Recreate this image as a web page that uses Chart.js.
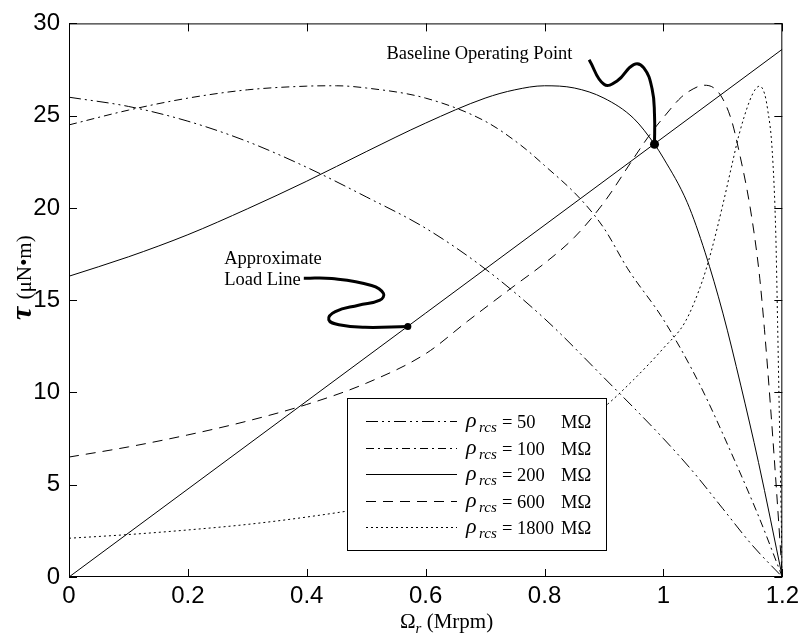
<!DOCTYPE html>
<html>
<head>
<meta charset="utf-8">
<script src="https://cdn.jsdelivr.net/npm/chart.js@4/dist/chart.umd.min.js"></script>
<style>
  html, body { margin: 0; padding: 0; background: #fff; }
</style>
</head>
<body>
<canvas id="torqueChart" width="804" height="641"></canvas>
<script>
// rotor speed (Mrpm) vs torque (uN*m)
const speed50 = [0, 0.1, 0.2, 0.3, 0.4, 0.5, 0.6, 0.7, 0.8, 0.9, 1.0, 1.05, 1.1, 1.15, 1.2];
const torque50 = [26.0, 25.5, 24.7, 23.6, 22.2, 20.6, 18.9, 16.7, 14.0, 10.8, 7.5, 5.7, 3.7, 1.7, 0];

const speed100 = [0, 0.1, 0.2, 0.3, 0.4, 0.45, 0.5, 0.6, 0.7, 0.76, 0.8, 0.86, 0.9, 0.94, 1.0, 1.06, 1.12, 1.16, 1.2];
const torque100 = [24.5, 25.3, 25.95, 26.4, 26.6, 26.62, 26.5, 25.95, 24.7, 23.4, 22.3, 20.5, 18.9, 16.7, 13.95, 10.5, 6.3, 3.3, 0];

const speed200 = [0, 0.1, 0.2, 0.3, 0.4, 0.5, 0.6, 0.7, 0.75, 0.8, 0.85, 0.9, 0.95, 0.985, 1.0, 1.04, 1.07, 1.1, 1.13, 1.16, 1.2];
const torque200 = [16.3, 17.35, 18.55, 19.95, 21.45, 23.05, 24.6, 25.95, 26.4, 26.62, 26.5, 25.95, 24.85, 23.45, 22.7, 20.3, 17.6, 14.3, 10.4, 6.2, 0];

const speed600 = [0, 0.1, 0.2, 0.3, 0.4, 0.5, 0.6, 0.67, 0.75, 0.8, 0.85, 0.9, 0.95, 0.98, 1.0, 1.03, 1.05, 1.068, 1.085, 1.1, 1.115, 1.127, 1.146, 1.161, 1.17, 1.18, 1.19, 1.2];
const torque600 = [6.5, 7.05, 7.7, 8.45, 9.35, 10.5, 12.1, 13.85, 15.8, 17.0, 18.4, 20.3, 22.7, 24.1, 24.9, 26.0, 26.45, 26.65, 26.5, 25.9, 24.7, 23.1, 20.0, 16.5, 13.4, 9.3, 4.8, 0];

const speed1800 = [0, 0.1, 0.2, 0.3, 0.4, 0.5, 0.6, 0.7, 0.8, 0.9, 0.95, 1.0, 1.037, 1.065, 1.08, 1.099, 1.115, 1.127, 1.145, 1.155, 1.162, 1.17, 1.175, 1.183, 1.189, 1.192, 1.196, 1.2];
const torque1800 = [2.1, 2.3, 2.55, 2.85, 3.25, 3.75, 4.45, 5.45, 6.9, 9.2, 10.7, 12.4, 13.85, 16.0, 17.6, 20.05, 22.3, 23.95, 25.8, 26.45, 26.6, 26.2, 25.4, 23.1, 18.6, 13.85, 7.0, 0];

const loadSpeed = [0, 1.2];
const loadTorque = [0, 28.6];

// operating points and the hand-drawn pointer curves
const pointSpeed = [0.985, 0.570];
const pointTorque = [23.45, 13.58];
const baseArrowSpeed = [0.875, 0.900, 0.922, 0.950, 0.967, 0.981, 0.985, 0.985];
const baseArrowTorque = [28.03, 26.70, 26.88, 27.77, 27.59, 26.44, 25.02, 23.45];
const loadArrowSpeed = [0.395, 0.442, 0.509, 0.529, 0.523, 0.487, 0.448, 0.437, 0.454, 0.498, 0.570];
const loadArrowTorque = [16.19, 16.17, 15.80, 15.37, 15.00, 14.73, 14.38, 13.94, 13.67, 13.53, 13.58];

const resistances = ['50', '100', '200', '600', '1800'];
const xTicks = [0, 0.2, 0.4, 0.6, 0.8, 1.0, 1.2];
const yTicks = [0, 5, 10, 15, 20, 25, 30];

const dashes = [[12, 4, 2, 4, 2, 4], [8, 4, 2, 4], [], [10, 7], [2, 3]];
const SERIF = '"Liberation Serif", "DejaVu Serif", serif';

function pts(xs, ys) {
  return xs.map((v, i) => ({ x: v, y: ys[i] }));
}

function curve(xs, ys, dash) {
  return {
    data: pts(xs, ys),
    showLine: true,
    borderColor: '#000',
    borderWidth: 1,
    borderDash: dash,
    pointRadius: 0,
    cubicInterpolationMode: 'monotone'
  };
}

const datasets = [
  curve(speed50, torque50, dashes[0]),
  curve(speed100, torque100, dashes[1]),
  curve(speed200, torque200, dashes[2]),
  curve(speed600, torque600, dashes[3]),
  curve(speed1800, torque1800, dashes[4]),
  curve(loadSpeed, loadTorque, []),
  {
    data: pts(baseArrowSpeed, baseArrowTorque),
    showLine: true, borderColor: '#000', borderWidth: 3, pointRadius: 0, tension: 0.45
  },
  {
    data: pts(loadArrowSpeed, loadArrowTorque),
    showLine: true, borderColor: '#000', borderWidth: 3, pointRadius: 0, tension: 0.45
  },
  {
    data: pts(pointSpeed, pointTorque),
    showLine: false, pointRadius: [4.5, 3.5], backgroundColor: '#000', borderColor: '#000', pointBorderWidth: 0
  }
];

const decorations = {
  id: 'decorations',
  afterDatasetsDraw(chart) {
    const ctx = chart.ctx;
    // legend box
    const bx = 347, by = 398, bw = 259, bh = 152;
    ctx.save();
    ctx.fillStyle = '#fff';
    ctx.fillRect(bx, by, bw, bh);
    ctx.strokeStyle = '#000';
    ctx.lineWidth = 1;
    ctx.strokeRect(bx + 0.5, by + 0.5, bw, bh);
    resistances.forEach((r, i) => {
      const ry = 421 + i * 26.5;
      ctx.beginPath();
      ctx.setLineDash(dashes[i]);
      ctx.moveTo(366, Math.round(ry) + 0.5);
      ctx.lineTo(457, Math.round(ry) + 0.5);
      ctx.stroke();
      ctx.setLineDash([]);
      ctx.fillStyle = '#000';
      ctx.textBaseline = 'alphabetic';
      ctx.textAlign = 'left';
      ctx.font = 'italic 22px ' + SERIF;
      ctx.fillText('ρ', 466, ry + 6);
      ctx.font = 'italic 15px ' + SERIF;
      ctx.fillText('rcs', 479, ry + 11);
      ctx.font = '18.5px ' + SERIF;
      ctx.fillText('= ' + r, 502, ry + 7);
      ctx.fillText('MΩ', 561, ry + 7);
    });
    ctx.restore();
  },
  afterDraw(chart) {
    const ctx = chart.ctx;
    const a = chart.chartArea;
    const xs = chart.scales.x, ys = chart.scales.y;
    ctx.save();
    ctx.strokeStyle = '#000';
    ctx.lineWidth = 1;
    ctx.strokeRect(a.left + 0.5, a.top + 0.5, a.right - a.left - 1, a.bottom - a.top - 1);
    ctx.beginPath();
    xTicks.forEach(v => {
      const px = Math.round(xs.getPixelForValue(v)) + 0.5;
      ctx.moveTo(px, a.bottom); ctx.lineTo(px, a.bottom - 8);
      ctx.moveTo(px, a.top); ctx.lineTo(px, a.top + 8);
    });
    yTicks.forEach(v => {
      const py = Math.round(ys.getPixelForValue(v)) + 0.5;
      ctx.moveTo(a.left, py); ctx.lineTo(a.left + 8, py);
      ctx.moveTo(a.right, py); ctx.lineTo(a.right - 8, py);
    });
    ctx.stroke();

    ctx.fillStyle = '#000';
    ctx.textBaseline = 'alphabetic';
    ctx.textAlign = 'left';
    // x title
    let tx = 400;
    ctx.font = '21px ' + SERIF;
    ctx.fillText('Ω', tx, 628);
    tx += ctx.measureText('Ω').width;
    ctx.font = 'italic 15px ' + SERIF;
    ctx.fillText('r', tx, 633);
    tx += ctx.measureText('r').width;
    ctx.font = '21px ' + SERIF;
    ctx.fillText(' (Mrpm)', tx, 628);

    // y title
    ctx.save();
    ctx.translate(31, 320);
    ctx.rotate(-Math.PI / 2);
    ctx.font = 'italic bold 30px ' + SERIF;
    ctx.fillText('τ', 0, 0);
    const wT = ctx.measureText('τ').width;
    ctx.font = '21px ' + SERIF;
    ctx.fillText(' (μN•m)', wT + 2, 0);
    ctx.restore();

    // notes
    ctx.font = '18.5px ' + SERIF;
    ctx.fillText('Baseline Operating Point', xs.getPixelForValue(0.534), ys.getPixelForValue(28.09));
    ctx.fillText('Approximate', xs.getPixelForValue(0.261), ys.getPixelForValue(16.98));
    ctx.fillText('Load Line', xs.getPixelForValue(0.261), ys.getPixelForValue(15.84));
    ctx.restore();
  }
};

new Chart(document.getElementById('torqueChart').getContext('2d'), {
  type: 'scatter',
  data: { datasets: datasets },
  options: {
    responsive: false,
    animation: false,
    devicePixelRatio: 1,
    layout: { padding: { top: 13, right: 18, left: 0, bottom: 0 } },
    plugins: { legend: { display: false }, tooltip: { enabled: false } },
    scales: {
      x: {
        type: 'linear', min: 0, max: 1.2,
        grid: { display: false, drawTicks: false },
        border: { display: false },
        afterBuildTicks: s => { s.ticks = xTicks.map(v => ({ value: v })); },
        afterFit: s => { s.height = 64; },
        ticks: {
          color: '#000', padding: 5, maxRotation: 0, autoSkip: false,
          font: { family: '"Liberation Sans", Arial, sans-serif', size: 24 },
          callback: v => String(+Number(v).toFixed(1))
        }
      },
      y: {
        type: 'linear', min: 0, max: 30,
        grid: { display: false, drawTicks: false },
        border: { display: false },
        afterBuildTicks: s => { s.ticks = yTicks.map(v => ({ value: v })); },
        afterFit: s => { s.width = 69; },
        ticks: {
          color: '#000', padding: 9,
          font: { family: '"Liberation Sans", Arial, sans-serif', size: 24 }
        }
      }
    }
  },
  plugins: [decorations]
});
</script>
</body>
</html>
